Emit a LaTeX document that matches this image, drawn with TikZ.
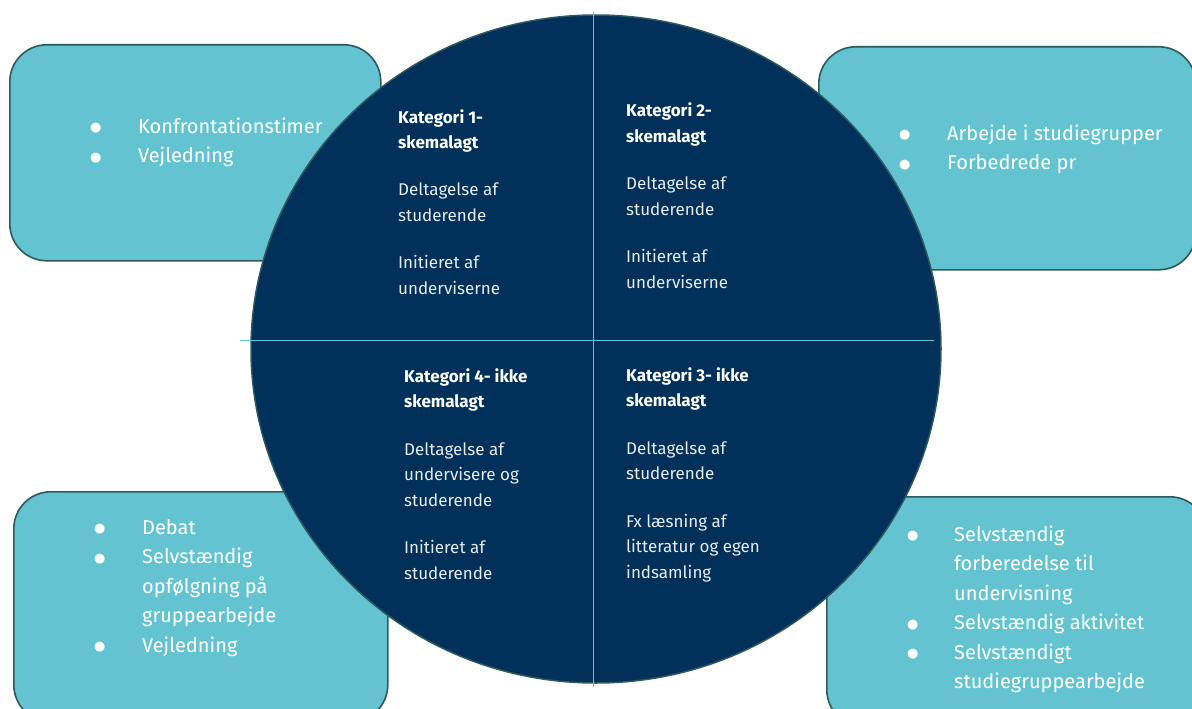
\documentclass[tikz,border=0pt]{standalone}
\usepackage{fontspec}
\setmainfont{Fira Sans}
\IfFontExistsTF{Fira Sans Book}{\newfontfamily\bookfont{Fira Sans Book}}{\let\bookfont\relax}
\newfontfamily\dotfont{DejaVu Sans}
\usepackage{tikz}
\usetikzlibrary{shapes.geometric}
\definecolor{boxfill}{HTML}{63C3D0}
\definecolor{boxline}{HTML}{2C5A5F}
\definecolor{navy}{HTML}{01305A}
\definecolor{divline}{HTML}{5CC6D8}
\definecolor{softwhite}{HTML}{E6ECF2}
\newcommand{\bigdot}{\raisebox{1.5pt}{\dotfont\fontsize{13}{0}\selectfont ●}}

\begin{document}
\begin{tikzpicture}[x=1pt, y=-1pt,
	activity/.style={draw=boxline, line width=1.6pt, fill=boxfill, rounded corners=37pt, inner sep=0pt, anchor=north west},
	itemlist/.style={anchor=base west, inner sep=0pt, text=white, font=\bookfont\fontsize{20}{29.5}\selectfont},
	quarter/.style={anchor=base west, inner sep=0pt, text=softwhite, font=\bookfont\fontsize{17}{25.5}\selectfont},
	divider/.style={draw=divline, line width=1pt}]
	\useasboundingbox (0,0) rectangle (1192,709);
	\clip (0,0) rectangle (1192,709);
	% boxes round the wheel
	\node[activity, minimum width=371pt, minimum height=216pt] (tlbox) at (9,44) {};
	\node[activity, minimum width=377pt, minimum height=223pt] (trbox) at (818,46) {};
	\node[activity, minimum width=374pt, minimum height=230pt] (blbox) at (13,491) {};
	\node[activity, minimum width=380pt, minimum height=230pt] (brbox) at (826,496) {};
	% the wheel
	\node[ellipse, draw=boxline, line width=1.5pt, fill=navy, minimum width=690pt, minimum height=668pt, inner sep=0pt] (wheel) at (596,349) {};
	\coordinate (vtop) at (593,12);
	\coordinate (vbot) at (593,687);
	\coordinate (hleft) at (240,340);
	\coordinate (hright) at (934,340);
	\draw[divider] (vtop) -- (vbot);
	\draw[divider] (hleft) -- (hright);
	% quarters
	\node[quarter] (kat1) at (398,123) {\begin{tabular}[t]{@{}l@{}}
		\textcolor{white}{\normalfont\textbf{Kategori 1-}}\\ \textcolor{white}{\normalfont\textbf{skemalagt}}\\[22pt]
		Deltagelse af\\ studerende\\[22pt]
		Initieret af\\ underviserne\end{tabular}};
	\node[quarter] (kat2) at (626,117) {\begin{tabular}[t]{@{}l@{}}
		\textcolor{white}{\normalfont\textbf{Kategori 2-}}\\ \textcolor{white}{\normalfont\textbf{skemalagt}}\\[22pt]
		Deltagelse af\\ studerende\\[22pt]
		Initieret af\\ underviserne\end{tabular}};
	\node[quarter] (kat4) at (404,382) {\begin{tabular}[t]{@{}l@{}}
		\textcolor{white}{\normalfont\textbf{Kategori 4- ikke}}\\ \textcolor{white}{\normalfont\textbf{skemalagt}}\\[22pt]
		Deltagelse af\\ undervisere og\\ studerende\\[22pt]
		Initieret af\\ studerende\end{tabular}};
	\node[quarter] (kat3) at (626,381) {\begin{tabular}[t]{@{}l@{}}
		\textcolor{white}{\normalfont\textbf{Kategori 3- ikke}}\\ \textcolor{white}{\normalfont\textbf{skemalagt}}\\[22pt]
		Deltagelse af\\ studerende\\[22pt]
		Fx læsning af\\ litteratur og egen\\ indsamling\end{tabular}};
	% lists in the boxes
	\node[itemlist] (tllist) at (90,133) {\begin{tabular}[t]{@{}p{48pt}@{}l@{}}
		\bigdot & Konfrontationstimer\\
		\bigdot & Vejledning\end{tabular}};
	\node[itemlist] (trlist) at (899,140) {\begin{tabular}[t]{@{}p{48pt}@{}l@{}}
		\bigdot & Arbejde i studiegrupper\\
		\bigdot & Forbedrede pr\end{tabular}};
	\node[itemlist] (bllist) at (94,534) {\begin{tabular}[t]{@{}p{48pt}@{}l@{}}
		\bigdot & Debat\\
		\bigdot & Selvstændig\\
		 & opfølgning på\\
		 & gruppearbejde\\
		\bigdot & Vejledning\end{tabular}};
	\node[itemlist] (brlist) at (907,541) {\begin{tabular}[t]{@{}p{47pt}@{}l@{}}
		\bigdot & Selvstændig\\
		 & forberedelse til\\
		 & undervisning\\
		\bigdot & Selvstændig aktivitet\\
		\bigdot & Selvstændigt\\
		 & studiegruppearbejde\end{tabular}};
\end{tikzpicture}
\end{document}
